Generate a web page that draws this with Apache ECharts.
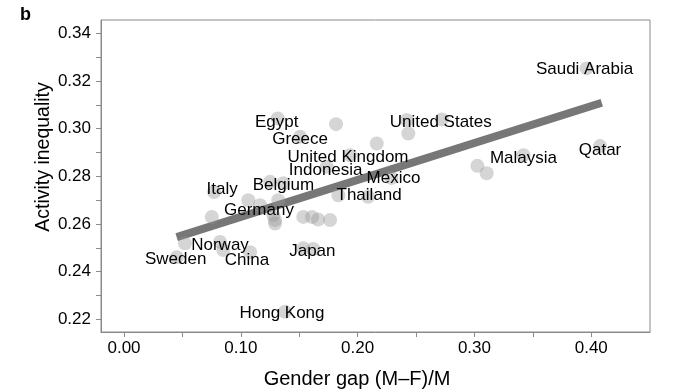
<!DOCTYPE html>
<html>
<head>
<meta charset="utf-8">
<script src="https://cdn.jsdelivr.net/npm/echarts@6/dist/echarts.min.js"></script>
<style>
html,body{margin:0;padding:0;background:#fff;}
#chart{width:690px;height:390px;}
</style>
</head>
<body>
<div id="chart"></div>
<script>
// ---- data ----
const countries = ["Saudi Arabia","Qatar","United States","Malaysia","Mexico","Thailand","Egypt","Greece","United Kingdom","Indonesia","Belgium","Italy","Germany","Norway","Sweden","China","Japan","Hong Kong"];
const countryX = [0.396,0.4075,0.272,0.342,0.229,0.209,0.1316,0.1507,0.1935,0.1735,0.1364,0.0771,0.1164,0.0822,0.0451,0.1079,0.1621,0.1378];
const countryY = [0.3253,0.2927,0.3039,0.2889,0.2793,0.2714,0.3043,0.2966,0.2889,0.2840,0.2771,0.2734,0.2679,0.2525,0.2461,0.2482,0.2495,0.2232];
const otherX = [0.242,0.2434,0.3025,0.3105,0.1835,0.1815,0.2164,0.125,0.1064,0.1321,0.0751,0.1278,0.1293,0.1293,0.1535,0.161,0.1661,0.1764,0.0522,0.085,0.1535];
const otherY = [0.3036,0.298,0.2844,0.2813,0.2721,0.3019,0.2938,0.2777,0.27,0.27,0.263,0.2638,0.2617,0.2602,0.263,0.2629,0.2619,0.2617,0.2519,0.2491,0.2498];
const trendX = [0.0451,0.409];
const trendY = [0.2545,0.3109];
const xTickValues = [0,0.05,0.1,0.15,0.2,0.25,0.3,0.35,0.4];
const xLabelValues = [0,0.1,0.2,0.3,0.4];
const yTickValues = [0.22,0.23,0.24,0.25,0.26,0.27,0.28,0.29,0.30,0.31,0.32,0.33,0.34];
const yLabelValues = [0.22,0.24,0.26,0.28,0.30,0.32,0.34];

// ---- label placement (layout) ----
const labelOffsets = {
  "Saudi Arabia":[-2,1],"Qatar":[0,4],"United States":[-1,3],"Malaysia":[0,3],
  "Mexico":[2,0],"Thailand":[1,-2],"Egypt":[-1,4],"Greece":[0,3],
  "United Kingdom":[-2,2],"Indonesia":[-1,3],"Belgium":[0,2],"Italy":[8,-3],
  "Germany":[-1,5],"Norway":[0,3],"Sweden":[-1,2],"China":[-3,8],
  "Japan":[-1,2],"Hong Kong":[-3,2]
};

const FONT = '"Liberation Sans", Arial, Helvetica, sans-serif';
const AXIS = '#8a8a8a';
const pointStyle = {color:'rgba(150,150,150,0.5)'};

const chart = echarts.init(document.getElementById('chart'), null, {renderer:'canvas'});
chart.setOption({
  animation:false,
  backgroundColor:'#fff',
  title:{text:'b', left:15, top:1, textStyle:{fontFamily:FONT, fontSize:18, fontWeight:'bold', color:'#000'}},
  grid:{left:101, right:40, top:20, bottom:58, show:true, borderColor:AXIS, borderWidth:1},
  xAxis:{
    type:'value', min:-0.0197, max:0.4503,
    splitLine:{show:false},
    axisLine:{show:true, onZero:false, lineStyle:{color:AXIS}},
    axisTick:{show:true, length:5, lineStyle:{color:AXIS}, customValues:xTickValues},
    axisLabel:{customValues:xLabelValues, margin:8, color:'#000', fontFamily:FONT, fontSize:17,
      formatter:v=>v.toFixed(2)}
  },
  yAxis:{
    type:'value', min:0.2147, max:0.3456,
    splitLine:{show:false},
    axisLine:{show:true, onZero:false, lineStyle:{color:AXIS}},
    axisTick:{show:true, length:5, lineStyle:{color:AXIS}, customValues:yTickValues},
    axisLabel:{customValues:yLabelValues, margin:10, color:'#000', fontFamily:FONT, fontSize:17,
      formatter:v=>v.toFixed(2)}
  },
  graphic:[
    {type:'text', x:44, y:157, rotation:Math.PI/2,
      style:{text:'Activity inequality', fontFamily:FONT, fontSize:19.5, fill:'#000', align:'center', verticalAlign:'middle'}},
    {type:'text', x:357, y:379,
      style:{text:'Gender gap (M\u2013F)/M', fontFamily:FONT, fontSize:20, fill:'#000', align:'center', verticalAlign:'middle'}}
  ],
  series:[
    {type:'line', z:1, symbol:'none', silent:true,
      data:trendX.map((x,i)=>[x,trendY[i]]),
      lineStyle:{color:'#777', width:8, cap:'butt'}},
    {type:'scatter', z:2, symbolSize:14, itemStyle:pointStyle,
      data:otherX.map((x,i)=>[x,otherY[i]])},
    {type:'scatter', z:3, symbolSize:14, itemStyle:pointStyle,
      data:countries.map((n,i)=>({name:n, value:[countryX[i],countryY[i]],
        label:{offset:labelOffsets[n]}})),
      label:{show:true, position:'inside', formatter:p=>p.name, color:'#000',
        textBorderWidth:0, textBorderColor:'transparent', opacity:1,
        fontFamily:FONT, fontSize:17}}
  ]
});
</script>
</body>
</html>
